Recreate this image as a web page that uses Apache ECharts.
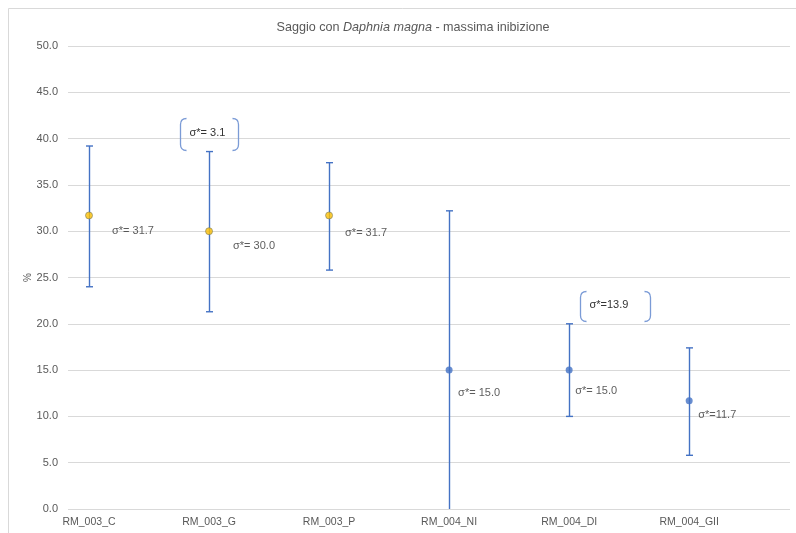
<!DOCTYPE html>
<html>
<head>
<meta charset="utf-8">
<script src="https://cdn.jsdelivr.net/npm/echarts@6/dist/echarts.min.js"></script>
<style>
  html, body { margin: 0; padding: 0; background: #fff; }
  #chart { width: 796px; height: 533px; }
</style>
</head>
<body>
<div id="chart"></div>
<script>
// Test samples and their maximum inhibition (%)
const categories = ['RM_003_C', 'RM_003_G', 'RM_003_P', 'RM_004_NI', 'RM_004_DI', 'RM_004_GII'];
const means = [31.7, 30.0, 31.7, 15.0, 15.0, 11.7];
// error bar extremes
const upper = [39.2, 38.6, 37.4, 32.2, 20.0, 17.4];
const lower = [24.0, 21.3, 25.8, -2.2, 10.0, 5.8];
// label prefix shown before each mean
const sigmaPrefix = ['σ*= ', 'σ*= ', 'σ*= ', 'σ*= ', 'σ*= ', 'σ*='];
// bracketed callouts
const calloutCategory = ['RM_003_G', 'RM_004_DI'];
const calloutText = ['σ*= 3.1', 'σ*=13.9'];
// y axis scale
const yMin = 0, yMax = 50, yStep = 5;

// ---- styling ----
const FONT = '"Liberation Sans", Arial, sans-serif';
const TEXT = '#333333';
const AXIS_TEXT = '#595959';
const BLUE = '#4472c4';
const pointFill = ['#ffc000', '#ffc000', '#ffc000', BLUE, BLUE, BLUE];
const labelOffsets = [[23, 16], [24, 15], [16, 18], [9, 23], [6, 21], [9, 14]];
const calloutBoxes = [
  { dx: -29, dy: -113, w: 58, h: 32 },
  { dx: 11, dy: -79, w: 70, h: 30 }
];

const chart = echarts.init(document.getElementById('chart'), null, { renderer: 'canvas' });

const errData = categories.map((c, i) => [i + 1, lower[i], upper[i]]);
const pointData = categories.map((c, i) => ({
  value: [i + 1, means[i]],
  itemStyle: { color: pointFill[i], borderColor: i < 3 ? '#7f7f5f' : BLUE, borderWidth: i < 3 ? 0.8 : 0 },
  label: { offset: labelOffsets[i] }
}));
const calloutData = calloutCategory.map((c, k) => {
  const i = categories.indexOf(c);
  return [i + 1, means[i], k];
});

function bracketPath(x, y, w, h) {
  const r = 6;
  return 'M' + (x + r) + ' ' + y + ' Q' + x + ' ' + y + ' ' + x + ' ' + (y + r) +
    ' L' + x + ' ' + (y + h - r) + ' Q' + x + ' ' + (y + h) + ' ' + (x + r) + ' ' + (y + h) +
    ' M' + (x + w - r) + ' ' + y + ' Q' + (x + w) + ' ' + y + ' ' + (x + w) + ' ' + (y + r) +
    ' L' + (x + w) + ' ' + (y + h - r) + ' Q' + (x + w) + ' ' + (y + h) + ' ' + (x + w - r) + ' ' + (y + h);
}

const option = {
  animation: false,
  backgroundColor: '#fff',
  title: {
    text: 'Saggio con {i|Daphnia magna} - massima inibizione',
    left: 408,
    top: 16,
    textAlign: 'center',
    textStyle: {
      fontFamily: FONT, fontSize: 12.6, fontWeight: 'normal', color: AXIS_TEXT,
      rich: { i: { fontFamily: FONT, fontSize: 12.6, fontStyle: 'italic', color: AXIS_TEXT } }
    }
  },
  graphic: [{
    type: 'rect',
    shape: { x: 8.5, y: 8.5, width: 800, height: 540 },
    style: { fill: 'none', stroke: '#d9d9d9', lineWidth: 1 },
    silent: true
  }],
  grid: { left: 68, right: 6, top: 46, bottom: 24 },
  xAxis: {
    type: 'value',
    min: 0.825,
    max: 6.84,
    axisLine: { show: false },
    axisTick: { show: false },
    splitLine: { show: false },
    axisLabel: {
      customValues: [1, 2, 3, 4, 5, 6],
      formatter: v => categories[Math.round(v) - 1] || '',
      color: AXIS_TEXT, fontFamily: FONT, fontSize: 10.5, margin: 8
    }
  },
  yAxis: {
    type: 'value',
    min: yMin, max: yMax, interval: yStep,
    name: '%',
    nameLocation: 'middle',
    nameGap: 35,
    nameMoveOverlap: false,
    nameRotate: 90,
    nameTextStyle: { color: AXIS_TEXT, fontFamily: FONT, fontSize: 10 },
    axisLine: { show: false },
    axisTick: { show: false },
    axisLabel: { formatter: v => v.toFixed(1), color: AXIS_TEXT, fontFamily: FONT, fontSize: 11, margin: 10 },
    splitLine: { lineStyle: { color: '#d9d9d9', width: 1 } }
  },
  series: [
    {
      type: 'custom',
      name: 'errori',
      z: 2,
      data: errData,
      renderItem: function (params, api) {
        const cs = params.coordSys;
        const bottomEdge = cs.y + cs.height;
        const top = api.coord([api.value(0), api.value(2)]);
        const bot = api.coord([api.value(0), api.value(1)]);
        const x = Math.round(top[0]) + 0.5;
        const capW = 3.5;
        const style = { stroke: BLUE, lineWidth: 1.4, fill: 'none' };
        const by = Math.min(bot[1], bottomEdge);
        const children = [
          { type: 'line', shape: { x1: x, y1: top[1], x2: x, y2: by }, style: style },
          { type: 'line', shape: { x1: x - capW, y1: top[1], x2: x + capW, y2: top[1] }, style: style }
        ];
        if (bot[1] <= bottomEdge) {
          children.push({ type: 'line', shape: { x1: x - capW, y1: bot[1], x2: x + capW, y2: bot[1] }, style: style });
        }
        return { type: 'group', children: children };
      }
    },
    {
      type: 'scatter',
      name: 'massima inibizione',
      z: 3,
      symbol: 'circle',
      symbolSize: 7,
      data: pointData,
      label: {
        show: true,
        position: 'inside',
        align: 'left',
        verticalAlign: 'middle',
        color: TEXT,
        fontFamily: FONT,
        fontSize: 11,
        formatter: p => sigmaPrefix[p.dataIndex] + means[p.dataIndex].toFixed(1)
      }
    },
    {
      type: 'custom',
      name: 'richiami',
      z: 4,
      data: calloutData,
      renderItem: function (params, api) {
        const p = api.coord([api.value(0), api.value(1)]);
        const k = api.value(2);
        const b = calloutBoxes[k];
        const x = Math.round(p[0] + b.dx) + 0.5;
        const y = Math.round(p[1] + b.dy) + 0.5;
        return {
          type: 'group',
          children: [
            { type: 'path', shape: { pathData: bracketPath(x, y, b.w, b.h) },
              style: { stroke: '#7b9bd6', lineWidth: 1.3, fill: 'none' } },
            { type: 'text', x: x + 9, y: y + b.h / 2 - 2,
              style: { text: calloutText[k], fill: TEXT, font: '11px ' + FONT, align: 'left', verticalAlign: 'middle' } }
          ]
        };
      }
    }
  ]
};

chart.setOption(option);
</script>
</body>
</html>
